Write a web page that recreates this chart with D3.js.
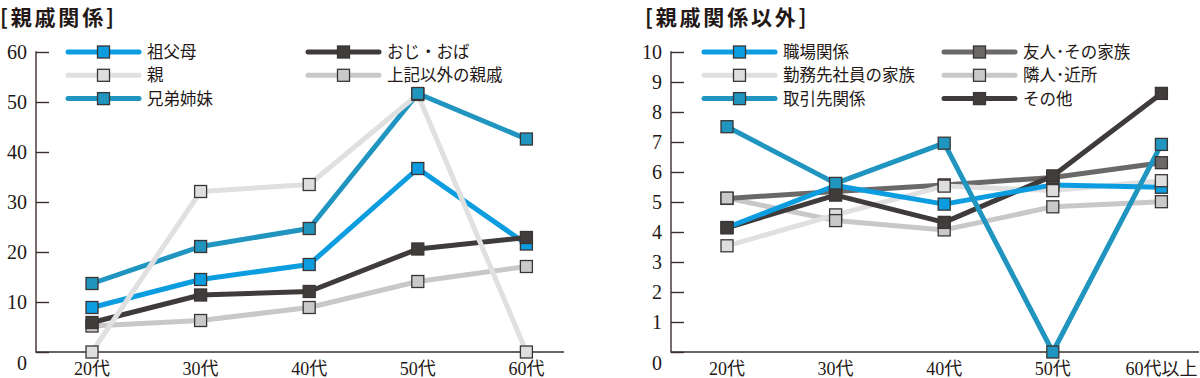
<!DOCTYPE html>
<html><head><meta charset="utf-8">
<script src="https://cdn.jsdelivr.net/npm/d3@7"></script>
<style>
body{margin:0;background:#fff;}
svg{display:block;}
.tick text,.lbl{font-family:"Liberation Serif","Noto Sans CJK JP",serif;fill:#231815;}
.leg{font-family:"Noto Sans CJK JP",sans-serif;font-size:16.5px;fill:#231815;}
.title{font-family:"Noto Sans CJK JP",sans-serif;font-weight:700;font-size:21px;letter-spacing:2.8px;fill:#231815;}
</style></head><body>
<svg id="c" width="1200" height="378"></svg>
<script>
// ---- data ----
const leftTitle = "[親戚関係]";
const rightTitle = "[親戚関係以外]";
const leftCats = ["20代","30代","40代","50代","60代"];
const rightCats = ["20代","30代","40代","50代","60代以上"];
const leftTicks = [0,10,20,30,40,50,60];
const rightTicks = [0,1,2,3,4,5,6,7,8,9,10];

const sofubo = [8.9, 14.5, 17.5, 36.7, 21.6];      // 祖父母
const ojioba = [5.9, 11.4, 12.1, 20.6, 22.9];      // おじ・おば
const oya = [0, 32.1, 33.5, 51.5, 0];              // 親
const sonotaShinseki = [5.2, 6.3, 8.9, 14.1, 17.1];// 上記以外の親戚
const kyodai = [13.7, 21.1, 24.7, 51.7, 42.6];     // 兄弟姉妹

const shokuba = [4.15, 5.55, 4.93, 5.57, 5.49];    // 職場関係
const yujin = [5.12, 5.35, 5.57, 5.82, 6.31];      // 友人・その家族
const kinmu = [3.54, 4.57, 5.53, 5.38, 5.71];      // 勤務先社員の家族
const rinjin = [5.13, 4.38, 4.07, 4.84, 5.01];     // 隣人・近所
const torihiki = [7.51, 5.62, 6.96, 0, 6.92];      // 取引先関係
const sonota = [4.14, 5.23, 4.32, 5.87, 8.62];     // その他

// ---- styles ----
const C = {blue:"#0b9de0", teal:"#1f95c0", dark:"#3f3b3a", mid:"#6b6968", light:"#dddddd", gray:"#c8c8c8"};
const leftSeries = [
  {name:"祖父母", v:sofubo, c:C.blue, f:"#0b9de0", leg:[0,0]},
  {name:"おじ・おば", v:ojioba, c:C.dark, f:"#413d3c", leg:[1,0]},
  {name:"親", v:oya, c:"#e0e0e0", f:"#dedede", leg:[0,1]},
  {name:"上記以外の親戚", v:sonotaShinseki, c:C.gray, f:"#c9c9c9", leg:[1,1]},
  {name:"兄弟姉妹", v:kyodai, c:C.teal, f:"#1f95c0", leg:[0,2]}
];
const rightSeries = [
  {name:"職場関係", v:shokuba, c:C.blue, f:"#0b9de0", leg:[0,0]},
  {name:"友人･その家族", v:yujin, c:C.mid, f:"#6b6968", leg:[1,0]},
  {name:"勤務先社員の家族", v:kinmu, c:"#e0e0e0", f:"#dedede", leg:[0,1]},
  {name:"隣人･近所", v:rinjin, c:C.gray, f:"#c9c9c9", leg:[1,1]},
  {name:"取引先関係", v:torihiki, c:C.teal, f:"#1f95c0", leg:[0,2]},
  {name:"その他", v:sonota, c:C.dark, f:"#413d3c", leg:[1,2]}
];
// drawing orders (indices)
const leftLineOrder = [3,0,4,1,2];
const leftMarkOrder = [2,3,0,4,1];
const rightLineOrder = [3,1,2,5,0,4];
const rightMarkOrder = [0,1,2,3,4,5];

const svg = d3.select("#c");

function panel(cfg){
  const g = svg.append("g");
  const y = d3.scaleLinear().domain(cfg.domain).range([352,52]);
  const x = d3.scalePoint().domain(cfg.cats).range([cfg.x0+56, cfg.x0+56+4*108.6]);
  // title
  g.append("text").attr("class","title").attr("x",cfg.tx).attr("y",25).text(cfg.title);
  // y axis
  const ya = d3.axisRight(y).tickValues(cfg.ticks).tickSize(13).tickFormat("");
  const yg = g.append("g").attr("transform",`translate(${cfg.x0},0)`).call(ya);
  yg.select(".domain").remove();
  yg.selectAll(".tick line").attr("stroke","#3a2f2c").attr("stroke-width",1.4);
  g.append("line").attr("x1",cfg.x0).attr("x2",cfg.x0).attr("y1",y(cfg.domain[1])-0.7).attr("y2",352.7)
    .attr("stroke","#3a2f2c").attr("stroke-width",1.4);
  g.selectAll(".ylab").data(cfg.ticks).join("text").attr("class","lbl")
    .attr("x",cfg.x0-9).attr("y",d=>y(d)+(d===0?11:0)).attr("dy","0.34em")
    .attr("text-anchor","end").attr("font-size",20).text(d=>d);
  // x axis
  g.append("line").attr("x1",cfg.x0).attr("x2",cfg.x0+528).attr("y1",352).attr("y2",352)
    .attr("stroke","#3a2f2c").attr("stroke-width",1.4);
  g.selectAll(".xlab").data(cfg.cats).join("text").attr("class","lbl")
    .attr("x",d=>x(d)).attr("y",375).attr("text-anchor","middle").attr("font-size",18).text(d=>d);
  // lines
  const line = d3.line().x((d,i)=>x(cfg.cats[i])).y(d=>y(d));
  cfg.lineOrder.forEach(i=>{
    const s = cfg.series[i];
    g.append("path").attr("d",line(s.v)).attr("fill","none").attr("stroke",s.c)
      .attr("stroke-width",5).attr("stroke-linejoin","round");
  });
  cfg.markOrder.forEach(i=>{
    const s = cfg.series[i];
    g.selectAll(null).data(s.v).join("rect")
      .attr("x",(d,j)=>x(cfg.cats[j])-6).attr("y",d=>y(d)-6).attr("width",12).attr("height",12)
      .attr("fill",s.f).attr("stroke","#3a3534").attr("stroke-width",1.3);
  });
  // legend
  cfg.series.forEach(s=>{
    const lx = cfg.legX[s.leg[0]], ly = 52 + s.leg[1]*23.3;
    const lg = g.append("g");
    lg.append("line").attr("x1",lx).attr("x2",lx+71).attr("y1",ly).attr("y2",ly)
      .attr("stroke",s.c).attr("stroke-width",5).attr("stroke-linecap","round");
    lg.append("rect").attr("x",lx+35.5-6).attr("y",ly-6).attr("width",12).attr("height",12)
      .attr("fill",s.f).attr("stroke","#3a3534").attr("stroke-width",1.3);
    lg.append("text").attr("class","leg").attr("x",lx+79).attr("y",ly).attr("dy","0.36em").text(s.name);
  });
}

panel({x0:36, tx:0, title:leftTitle, domain:[0,60], ticks:leftTicks, cats:leftCats,
  series:leftSeries, lineOrder:leftLineOrder, markOrder:leftMarkOrder, legX:[68,308]});
panel({x0:671, tx:645, title:rightTitle, domain:[0,10], ticks:rightTicks, cats:rightCats,
  series:rightSeries, lineOrder:rightLineOrder, markOrder:rightMarkOrder, legX:[704,944]});
</script>
</body></html>
